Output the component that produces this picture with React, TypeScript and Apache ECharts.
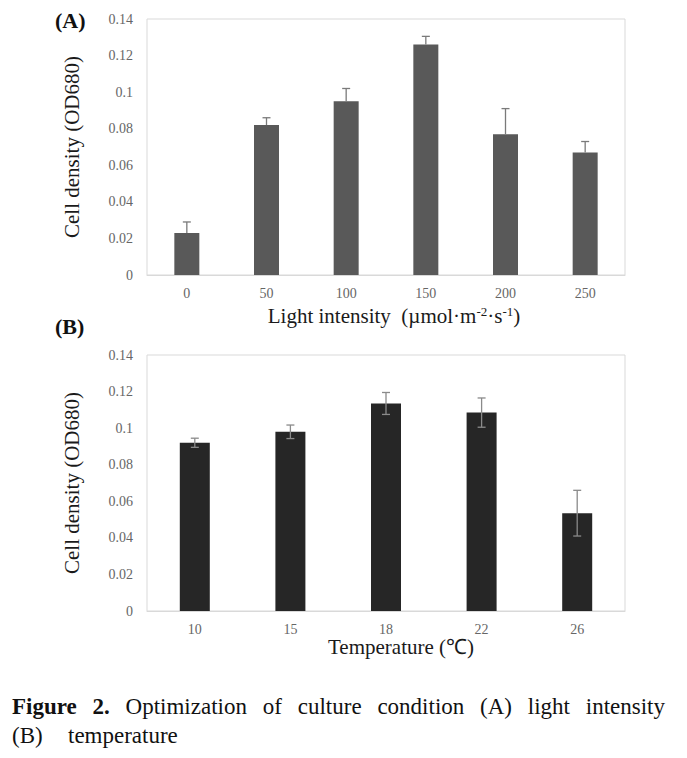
import React, { useEffect, useRef } from "react";
import * as echarts from "echarts";

const lightCategories = ["0", "50", "100", "150", "200", "250"];
const lightValues = [0.023, 0.082, 0.095, 0.126, 0.077, 0.067];
const lightErrors = [0.006, 0.004, 0.007, 0.0045, 0.014, 0.006];

const tempCategories = ["10", "15", "18", "22", "26"];
const tempValues = [0.092, 0.098, 0.1135, 0.1085, 0.0535];
const tempErrors = [0.0025, 0.0037, 0.006, 0.008, 0.0125];

const yMin = 0;
const yMax = 0.14;
const yInterval = 0.02;

const captionLine1 = [
  { t: "Figure", b: true },
  { t: "2.", b: true },
  { t: "Optimization", b: false },
  { t: "of", b: false },
  { t: "culture", b: false },
  { t: "condition", b: false },
  { t: "(A)", b: false },
  { t: "light", b: false },
  { t: "intensity", b: false },
];

const SERIF = "Liberation Serif";

export default function App() {
  const ref = useRef<HTMLDivElement>(null);

  useEffect(() => {
    if (!ref.current) return;
    const chart = echarts.init(ref.current, undefined, { renderer: "svg" });

    const canvas = document.createElement("canvas");
    const ctx = canvas.getContext("2d")!;
    const capSize = 23;
    const measure = (t: string, b: boolean) => {
      ctx.font = `${b ? "bold " : ""}${capSize}px "Liberation Serif"`;
      return ctx.measureText(t).width;
    };
    const lineStart = 12;
    const lineEnd = 665;
    const widths = captionLine1.map((w) => measure(w.t, w.b));
    const total = widths.reduce((a, b) => a + b, 0);
    const gap = (lineEnd - lineStart - total) / (captionLine1.length - 1);
    let cx = lineStart;
    const captionTexts: any[] = captionLine1.map((w, i) => {
      const el = {
        type: "text",
        x: cx,
        y: 706,
        style: {
          text: w.t,
          fontFamily: SERIF,
          fontSize: capSize,
          fontWeight: w.b ? "bold" : "normal",
          fill: "#111",
          align: "left",
          verticalAlign: "middle",
        },
      };
      cx += widths[i] + gap;
      return el;
    });

    const yLabelFmt = (v: number) => String(parseFloat(v.toFixed(2)));

    const makeErr = (
      values: number[],
      errors: number[],
      both: boolean,
      xIdx: number,
      color: string
    ) => ({
      type: "custom",
      xAxisIndex: xIdx,
      yAxisIndex: xIdx,
      z: 5,
      data: values.map((v, i) => [i, v, errors[i]]),
      encode: { x: 0, y: 1 },
      renderItem: (params: any, api: any) => {
        const i = api.value(0);
        const v = api.value(1);
        const e = api.value(2);
        const top = api.coord([i, v + e]);
        const bot = api.coord([i, both ? v - e : v]);
        const half = 4;
        return {
          type: "group",
          children: [
            {
              type: "line",
              shape: { x1: top[0], y1: top[1], x2: bot[0], y2: bot[1] },
              style: { stroke: color, lineWidth: 1.3 },
            },
            {
              type: "line",
              shape: { x1: top[0] - half, y1: top[1], x2: top[0] + half, y2: top[1] },
              style: { stroke: color, lineWidth: 1.3 },
            },
            ...(both
              ? [
                  {
                    type: "line",
                    shape: { x1: bot[0] - half, y1: bot[1], x2: bot[0] + half, y2: bot[1] },
                    style: { stroke: color, lineWidth: 1.3 },
                  },
                ]
              : []),
          ],
        };
      },
    });

    const xAxisCommon = {
      type: "category",
      axisTick: { show: false },
      axisLine: { lineStyle: { color: "#d9d9d9", width: 1 } },
      axisLabel: {
        color: "#666",
        fontFamily: SERIF,
        fontSize: 14,
        margin: 11,
      },
    };
    const yAxisCommon = {
      type: "value",
      min: yMin,
      max: yMax,
      interval: yInterval,
      splitLine: { show: false },
      axisLine: { show: false },
      axisTick: { show: false },
      axisLabel: {
        color: "#666",
        fontFamily: SERIF,
        fontSize: 14,
        margin: 14,
        formatter: yLabelFmt,
      },
    };

    const titleStyle = {
      fontFamily: SERIF,
      fontSize: 21,
      fill: "#1a1a1a",
      align: "center",
      verticalAlign: "middle",
    };

    chart.setOption({
      animation: false,
      backgroundColor: "#fff",
      grid: [
        {
          left: 147,
          top: 19,
          width: 478,
          height: 256,
          show: true,
          borderColor: "#d9d9d9",
          borderWidth: 1,
        },
        {
          left: 147,
          top: 355,
          width: 478,
          height: 256,
          show: true,
          borderColor: "#d9d9d9",
          borderWidth: 1,
        },
      ],
      xAxis: [
        { ...xAxisCommon, gridIndex: 0, data: lightCategories },
        { ...xAxisCommon, gridIndex: 1, data: tempCategories },
      ],
      yAxis: [
        { ...yAxisCommon, gridIndex: 0 },
        { ...yAxisCommon, gridIndex: 1 },
      ],
      series: [
        {
          type: "bar",
          xAxisIndex: 0,
          yAxisIndex: 0,
          data: lightValues,
          barWidth: 25,
          itemStyle: { color: "#595959" },
        },
        makeErr(lightValues, lightErrors, false, 0, "#7a7a7a"),
        {
          type: "bar",
          xAxisIndex: 1,
          yAxisIndex: 1,
          data: tempValues,
          barWidth: 30,
          itemStyle: { color: "#262626" },
        },
        makeErr(tempValues, tempErrors, true, 1, "#8a8a8a"),
      ],
      graphic: [
        {
          type: "text",
          x: 55,
          y: 20,
          style: {
            text: "(A)",
            fontFamily: SERIF,
            fontSize: 22,
            fontWeight: "bold",
            fill: "#111",
            align: "left",
            verticalAlign: "middle",
          },
        },
        {
          type: "text",
          x: 55,
          y: 326,
          style: {
            text: "(B)",
            fontFamily: SERIF,
            fontSize: 22,
            fontWeight: "bold",
            fill: "#111",
            align: "left",
            verticalAlign: "middle",
          },
        },
        {
          type: "text",
          x: 72,
          y: 147,
          rotation: Math.PI / 2,
          style: { ...titleStyle, text: "Cell density (OD680)" },
        },
        {
          type: "text",
          x: 72,
          y: 483,
          rotation: Math.PI / 2,
          style: { ...titleStyle, text: "Cell density (OD680)" },
        },
        {
          type: "text",
          x: 394,
          y: 316,
          style: {
            ...titleStyle,
            text: "Light intensity  (µmol·m{sup|-2}·s{sup|-1})",
            rich: {
              sup: {
                fontFamily: SERIF,
                fontSize: 13,
                fill: "#1a1a1a",
                padding: [0, 0, 9, 0],
              },
            },
          },
        },
        {
          type: "text",
          x: 401,
          y: 647,
          style: { ...titleStyle, text: "Temperature (℃)" },
        },
        ...captionTexts,
        {
          type: "text",
          x: 12,
          y: 735,
          style: {
            text: "(B)",
            fontFamily: SERIF,
            fontSize: capSize,
            fill: "#111",
            align: "left",
            verticalAlign: "middle",
          },
        },
        {
          type: "text",
          x: 68,
          y: 735,
          style: {
            text: "temperature",
            fontFamily: SERIF,
            fontSize: capSize,
            fill: "#111",
            align: "left",
            verticalAlign: "middle",
          },
        },
      ],
    });

    return () => chart.dispose();
  }, []);

  return (
    <div
      ref={ref}
      style={{ position: "absolute", left: 0, top: 0, width: 687, height: 758 }}
    />
  );
}
